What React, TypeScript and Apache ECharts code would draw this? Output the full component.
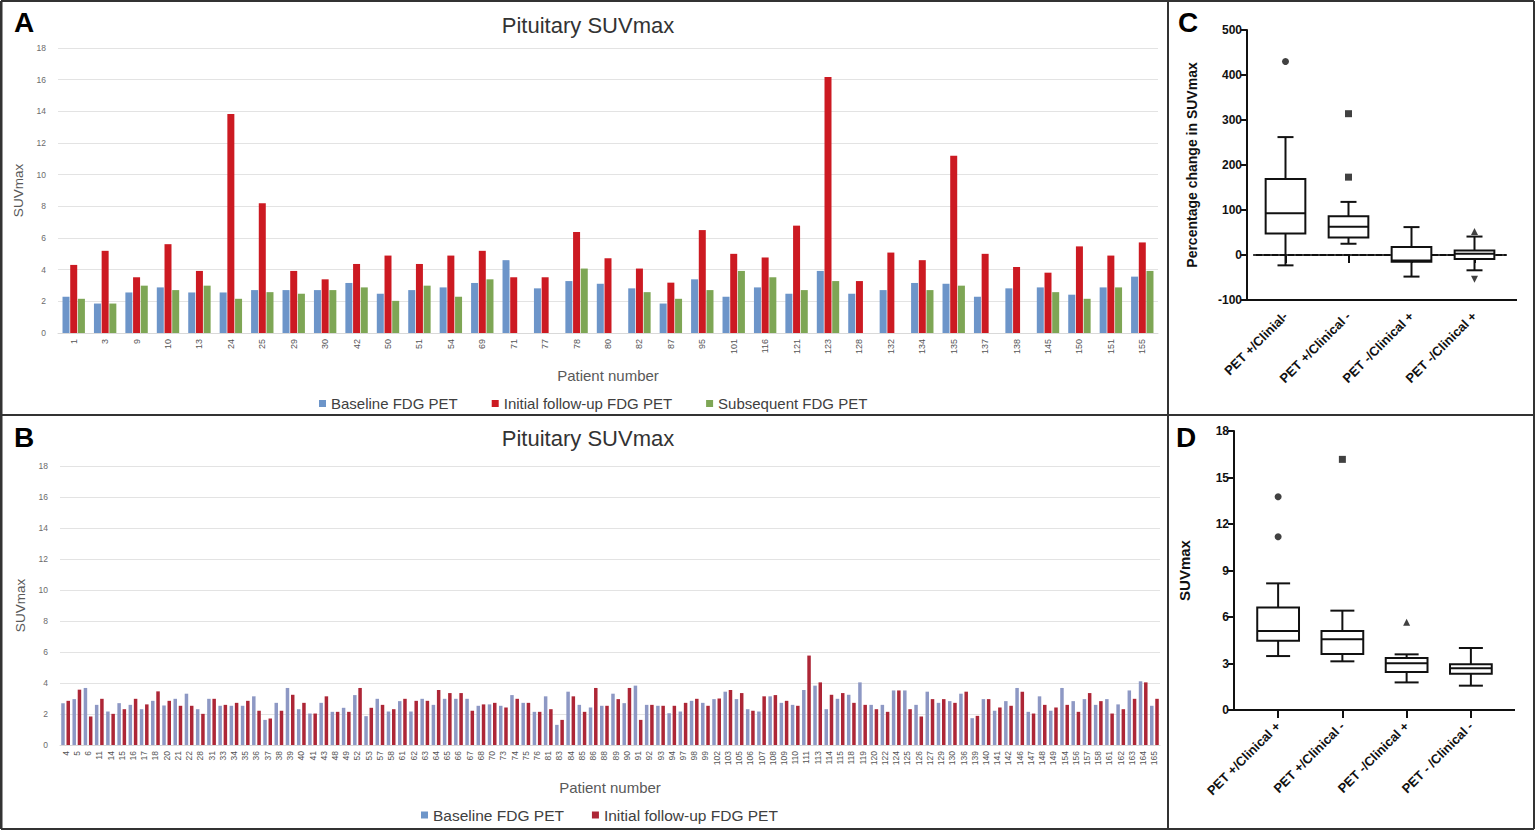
import React, { useEffect, useRef } from 'react';
import * as echarts from 'echarts';

// ---------- Panel A ----------
const patientsA = ['1','3','9','10','13','24','25','29','30','42','50','51','54','69','71','77','78','80','82','87','95','101','116','121','123','128','132','134','135','137','138','145','150','151','155'];
const baselineA = [2.29,1.86,2.56,2.88,2.56,2.56,2.71,2.71,2.71,3.16,2.48,2.71,2.88,3.16,4.6,2.82,3.28,3.11,2.82,1.86,3.39,2.29,2.88,2.48,3.92,2.48,2.71,3.16,3.11,2.29,2.82,2.88,2.42,2.88,3.56];
const initialA = [4.3,5.19,3.52,5.61,3.92,13.83,8.2,3.92,3.39,4.36,4.89,4.36,4.89,5.19,3.52,3.52,6.38,4.72,4.07,3.18,6.5,5.0,4.77,6.78,16.17,3.28,5.08,4.6,11.19,5.0,4.17,3.81,5.47,4.89,5.72];
const subsequentA = [2.16,1.86,2.99,2.71,2.99,2.16,2.58,2.48,2.71,2.88,2.03,2.99,2.29,3.39,null,null,4.07,null,2.58,2.16,2.71,3.92,3.52,2.71,3.28,null,null,2.71,2.99,null,null,2.58,2.16,2.88,3.92];

// ---------- Panel B ----------
const patientsB = ['4','5','6','11','14','15','16','17','18','20','21','22','28','31','33','34','35','36','37','38','39','40','41','43','48','49','52','53','57','58','61','62','63','64','65','66','67','68','70','73','74','75','76','81','83','84','85','86','88','89','90','91','92','93','94','97','98','99','102','103','105','106','107','108','109','110','111','113','114','115','118','119','120','122','124','125','126','127','129','130','136','139','140','141','142','146','147','148','149','154','156','157','158','161','162','163','164','165'];
const baselineB = [2.70,2.96,3.68,2.59,2.16,2.70,2.59,2.31,2.85,2.55,2.98,3.31,2.31,2.98,2.53,2.53,2.53,3.14,1.62,2.72,3.68,2.31,2.03,2.72,2.14,2.40,3.22,1.86,2.98,2.16,2.83,2.16,2.98,2.59,2.98,2.98,2.98,2.53,2.62,2.53,3.22,2.72,2.14,3.14,1.30,3.44,2.59,2.42,2.53,3.31,2.70,3.83,2.59,2.53,2.05,2.16,2.85,2.72,2.96,3.44,2.96,2.31,2.16,3.14,2.72,2.59,3.55,3.83,2.31,2.98,3.24,4.04,2.59,2.59,3.52,3.52,2.59,3.44,2.72,2.83,3.31,1.73,2.96,2.21,2.83,3.68,2.14,3.14,2.21,3.68,2.83,2.96,2.59,2.96,2.62,3.52,4.11,2.53];
const initialB = [2.85,3.57,1.84,2.98,2.01,2.31,2.98,2.62,3.46,2.85,2.53,2.53,2.01,2.98,2.59,2.72,2.85,2.21,1.71,2.21,3.24,2.72,2.03,3.14,2.14,2.14,3.68,2.40,2.59,2.31,2.98,2.85,2.85,3.55,3.35,3.35,2.21,2.62,2.72,2.42,2.98,2.72,2.14,2.31,1.62,3.14,2.14,3.68,2.53,2.96,3.68,1.62,2.59,2.53,2.53,2.72,2.98,2.53,3.0,3.55,3.35,2.21,3.14,3.22,2.85,2.53,5.77,4.04,3.24,3.35,2.72,2.59,2.31,2.14,3.52,2.31,1.84,2.96,2.96,2.72,3.44,1.88,2.96,2.42,2.53,3.44,2.03,2.59,2.42,2.59,2.14,3.35,2.83,2.03,2.31,2.98,4.04,2.98];

// ---------- Panel C ----------
const groupsC = ['PET +/Clinial-', 'PET +/Clinical -', 'PET -/Clinical +', 'PET -/Clinical +'];
// [low whisker, Q1, median, Q3, high whisker]
const boxC = [[-23, 48, 93, 169, 262], [25, 39, 63, 86, 118], [-48, -15, -12, 18, 62], [-34, -9, 3, 10, 41]];
const outliersC = [[0, 430, 'circle', 0], [1, 314, 'rect', 0], [1, 173, 'rect', 0], [3, 52, 'triangle', 0], [3, -54, 'triangle', 180]];
const ticksC = [-100, 0, 100, 200, 300, 400, 500];

// ---------- Panel D ----------
const groupsD = ['PET +/Clinical +', 'PET +/Clinical -', 'PET -/Clinical +', 'PET - /Clinical -'];
const boxD = [[3.48, 4.47, 5.10, 6.62, 8.17], [3.14, 3.61, 4.56, 5.10, 6.41], [1.78, 2.45, 3.01, 3.35, 3.59], [1.57, 2.34, 2.69, 2.95, 4.0]];
const outliersD = [[0, 13.76, 'circle', 0], [0, 11.18, 'circle', 0], [1, 16.17, 'rect', 0], [2, 5.66, 'triangle', 0]];

const FONT = 'Liberation Sans, Arial, sans-serif';
const BLUE = '#6d95c9';
const RED = '#cc1a22';
const GREEN = '#7ea655';
const BLUE_B = '#8d98c4';
const RED_B = '#ad2636';

function boxRender(boxFrac: number, capPx: number) {
  return (params: any, api: any) => {
    const idx = api.value(0);
    const low = api.coord([idx, api.value(1)]);
    const q1 = api.coord([idx, api.value(2)]);
    const med = api.coord([idx, api.value(3)]);
    const q3 = api.coord([idx, api.value(4)]);
    const high = api.coord([idx, api.value(5)]);
    const band = api.size([1, 0])[0];
    const hw = (band * boxFrac) / 2;
    const x = low[0];
    const st = { stroke: '#111', lineWidth: 2, fill: null };
    return {
      type: 'group',
      children: [
        { type: 'line', shape: { x1: x, y1: q3[1], x2: x, y2: high[1] }, style: st },
        { type: 'line', shape: { x1: x, y1: q1[1], x2: x, y2: low[1] }, style: st },
        { type: 'line', shape: { x1: x - capPx / 2, y1: high[1], x2: x + capPx / 2, y2: high[1] }, style: st },
        { type: 'line', shape: { x1: x - capPx / 2, y1: low[1], x2: x + capPx / 2, y2: low[1] }, style: st },
        { type: 'rect', shape: { x: x - hw, y: q3[1], width: hw * 2, height: q1[1] - q3[1] }, style: { stroke: '#111', lineWidth: 2, fill: '#fff' } },
        { type: 'line', shape: { x1: x - hw, y1: med[1], x2: x + hw, y2: med[1] }, style: st },
      ],
    };
  };
}

function outlierData(list: any[]) {
  return list.map((o) => ({ value: [o[0], o[1]], symbol: o[2], symbolRotate: o[3] }));
}

function label(text: string, x: number, y: number, size: number, weight: string, fill: string, align = 'left') {
  return {
    type: 'text',
    x,
    y,
    style: { text, fontSize: size, fontWeight: weight, fontFamily: FONT, fill, align, textAlign: align, verticalAlign: 'middle', textVerticalAlign: 'middle' },
  };
}

function borderLine(x1: number, y1: number, x2: number, y2: number, w = 2, c = '#333') {
  return { type: 'line', shape: { x1, y1, x2, y2 }, style: { stroke: c, lineWidth: w } };
}

export default function App() {
  const ref = useRef<HTMLDivElement>(null);
  useEffect(() => {
    if (!ref.current) return;
    const chart = echarts.init(ref.current, null, { renderer: 'svg' });

    const barYAxis = (grid: number) => ({
      type: 'value',
      gridIndex: grid,
      min: 0,
      max: 18,
      interval: 2,
      name: 'SUVmax',
      nameLocation: 'middle',
      nameGap: 27,
      nameTextStyle: { fontSize: 13.5, color: '#595959', fontFamily: FONT },
      axisLine: { show: false },
      axisTick: { show: false },
      axisLabel: { fontSize: 8.5, color: '#6b6b6b', fontFamily: FONT, margin: 12 },
      splitLine: { lineStyle: { color: '#e3e3e3', width: 1 } },
    });
    const barXAxis = (grid: number, data: string[], fs: number) => ({
      type: 'category',
      gridIndex: grid,
      data,
      name: 'Patient number',
      nameLocation: 'middle',
      nameGap: 35,
      nameTextStyle: { fontSize: 15, color: '#595959', fontFamily: FONT },
      axisLine: { lineStyle: { color: '#d9d9d9' } },
      axisTick: { show: false },
      axisLabel: { rotate: 90, interval: 0, fontSize: fs, color: '#555', fontFamily: FONT, margin: 6 },
    });
    const boxYAxis = (grid: number, min: number, max: number, interval: number, name: string, offset: number, nameGap: number, nameSize: number) => ({
      type: 'value',
      gridIndex: grid,
      min,
      max,
      interval,
      offset,
      name,
      nameLocation: 'middle',
      nameGap,
      nameTextStyle: { fontSize: nameSize, fontWeight: 'bold', color: '#111', fontFamily: FONT },
      axisLine: { show: true, lineStyle: { color: '#111', width: 2 } },
      axisTick: { show: true, length: 6, lineStyle: { color: '#111', width: 2 } },
      axisLabel: { fontSize: 12, fontWeight: 'bold', color: '#111', fontFamily: FONT, margin: 5 },
      splitLine: { show: false },
    });
    const boxXAxis = (grid: number, data: string[]) => ({
      type: 'category',
      gridIndex: grid,
      data,
      axisLine: { show: true, lineStyle: { color: '#111', width: 2 } },
      axisTick: { show: true, alignWithLabel: true, length: 8, lineStyle: { color: '#111', width: 2 } },
      axisLabel: { rotate: 45, interval: 0, fontSize: 13, fontWeight: 'bold', color: '#111', fontFamily: FONT, margin: 14 },
      splitLine: { show: false },
    });

    const option: any = {
      animation: false,
      backgroundColor: '#fff',
      textStyle: { fontFamily: FONT },
      grid: [
        { left: 58, top: 48, width: 1100, height: 285 },
        { left: 60, top: 466, width: 1100, height: 279 },
        { left: 1254, top: 30, width: 252, height: 270 },
        { left: 1246, top: 431, width: 257, height: 279 },
      ],
      xAxis: [
        barXAxis(0, patientsA, 9),
        barXAxis(1, patientsB, 8.5),
        boxXAxis(2, groupsC),
        boxXAxis(3, groupsD),
      ],
      yAxis: [
        barYAxis(0),
        barYAxis(1),
        { ...boxYAxis(2, ticksC[0], ticksC[ticksC.length - 1], 100, 'Percentage change in SUVmax', 7, 48, 14) },
        { ...boxYAxis(3, 0, 18, 3, 'SUVmax', 12, 42, 15) },
      ],
      legend: [
        {
          left: 314,
          top: 391,
          icon: 'rect',
          itemWidth: 7,
          itemHeight: 7,
          itemGap: 34,
          textStyle: { fontSize: 15, color: '#404040', fontFamily: FONT },
          data: [
            { name: 'Baseline FDG PET', itemStyle: { color: BLUE } },
            { name: 'Initial follow-up FDG PET', itemStyle: { color: RED } },
            { name: 'Subsequent FDG PET', itemStyle: { color: GREEN } },
          ],
        },
        {
          left: 416,
          top: 802,
          icon: 'rect',
          itemWidth: 7,
          itemHeight: 7,
          itemGap: 28,
          textStyle: { fontSize: 15.5, color: '#404040', fontFamily: FONT },
          data: [
            { name: 'Baseline FDG PET', itemStyle: { color: BLUE } },
            { name: 'Initial follow-up FDG PET', itemStyle: { color: RED_B } },
          ],
        },
      ],
      series: [
        { type: 'bar', name: 'Baseline FDG PET', xAxisIndex: 0, yAxisIndex: 0, data: baselineA, barWidth: 7, barGap: '10%', itemStyle: { color: BLUE } },
        { type: 'bar', name: 'Initial follow-up FDG PET', xAxisIndex: 0, yAxisIndex: 0, data: initialA, barWidth: 7, barGap: '10%', itemStyle: { color: RED } },
        { type: 'bar', name: 'Subsequent FDG PET', xAxisIndex: 0, yAxisIndex: 0, data: subsequentA, barWidth: 7, barGap: '10%', itemStyle: { color: GREEN } },
        { type: 'bar', name: 'Baseline FDG PET', xAxisIndex: 1, yAxisIndex: 1, data: baselineB, barWidth: 3.5, barGap: '50%', itemStyle: { color: BLUE_B } },
        { type: 'bar', name: 'Initial follow-up FDG PET', xAxisIndex: 1, yAxisIndex: 1, data: initialB, barWidth: 3.5, barGap: '50%', itemStyle: { color: RED_B } },
        {
          type: 'custom',
          name: 'boxC',
          xAxisIndex: 2,
          yAxisIndex: 2,
          renderItem: boxRender(0.63, 16),
          encode: { x: 0, y: [1, 2, 3, 4, 5] },
          data: boxC.map((b, i) => [i, ...b]),
          z: 3,
        },
        {
          type: 'scatter',
          name: 'outC',
          xAxisIndex: 2,
          yAxisIndex: 2,
          symbolSize: 7,
          itemStyle: { color: '#111' },
          data: outlierData(outliersC),
          markLine: {
            silent: true,
            symbol: 'none',
            label: { show: false },
            lineStyle: { type: [2, 6], color: '#444', width: 1.5 },
            data: [{ yAxis: 0 }],
            z: 2,
          },
        },
        {
          type: 'custom',
          name: 'boxD',
          xAxisIndex: 3,
          yAxisIndex: 3,
          renderItem: boxRender(0.65, 24),
          encode: { x: 0, y: [1, 2, 3, 4, 5] },
          data: boxD.map((b, i) => [i, ...b]),
          z: 3,
        },
        {
          type: 'scatter',
          name: 'outD',
          xAxisIndex: 3,
          yAxisIndex: 3,
          symbolSize: 7,
          itemStyle: { color: '#111' },
          data: outlierData(outliersD),
        },
      ],
      graphic: [
        // panel frames
        borderLine(1, 1, 1534, 1),
        borderLine(1, 829, 1534, 829),
        borderLine(1, 1, 1, 829, 3),
        borderLine(1534, 1, 1534, 829),
        borderLine(1168, 1, 1168, 829),
        borderLine(1, 415, 1534, 415),
        // axis extensions for C and D
        borderLine(1247, 300, 1517, 300, 2, '#111'),
        borderLine(1234, 710, 1515, 710, 2, '#111'),
        // titles
        label('Pituitary SUVmax', 588, 25, 22, 'normal', '#333', 'center'),
        label('Pituitary SUVmax', 588, 438, 22, 'normal', '#333', 'center'),
        // panel letters
        label('A', 14, 22, 28, 'bold', '#000'),
        label('B', 14, 437, 28, 'bold', '#000'),
        label('C', 1178, 22, 28, 'bold', '#000'),
        label('D', 1176, 437, 28, 'bold', '#000'),
      ],
    };
    chart.setOption(option);
    return () => chart.dispose();
  }, []);
  return <div ref={ref} style={{ position: 'absolute', left: 0, top: 0, width: 1535, height: 830, background: '#fff' }} />;
}
